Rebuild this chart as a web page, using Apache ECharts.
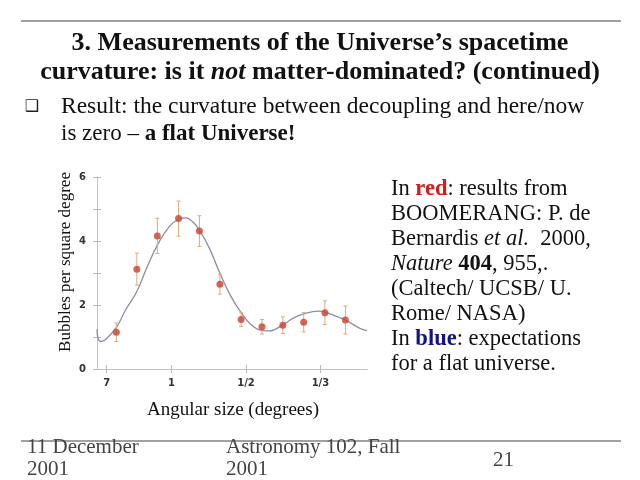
<!DOCTYPE html>
<html>
<head>
<meta charset="utf-8">
<script src="https://cdn.jsdelivr.net/npm/echarts@6/dist/echarts.min.js"></script>
<style>
  html, body { margin: 0; padding: 0; background: #fff; }
  #chart { width: 640px; height: 480px; }
</style>
</head>
<body>
<div id="chart"></div>
<script>
  // BOOMERANG points (multipole-like position, bubbles per sq. degree)
  const pointPos = [52, 107, 162, 219, 275, 330, 387, 443, 499, 555, 612, 667];
  const pointVal = [1.15, 3.12, 4.16, 4.70, 4.31, 2.65, 1.55, 1.32, 1.37, 1.46, 1.76, 1.53];
  const pointErr = [0.29, 0.50, 0.55, 0.55, 0.48, 0.31, 0.22, 0.23, 0.26, 0.30, 0.37, 0.44];

  // flat-universe expectation curve
  const curvePos = [0, 3, 10, 23, 52, 77, 107, 135, 162, 194, 219, 239, 257, 275, 302, 330, 360, 387, 414, 443, 463, 499, 526, 555, 594, 612, 639, 667, 706, 725];
  const curveVal = [1.24, 0.95, 0.86, 0.92, 1.30, 1.85, 2.42, 3.20, 3.87, 4.45, 4.68, 4.72, 4.60, 4.34, 3.77, 2.99, 2.26, 1.76, 1.38, 1.20, 1.19, 1.38, 1.58, 1.72, 1.81, 1.78, 1.66, 1.53, 1.27, 1.20];

  // x tick positions and their angular-size labels
  const tickPos = [26, 200, 400, 600];
  const tickLabels = ['7', '1', '1/2', '1/3'];

  const serif = '"Liberation Serif", "Times New Roman", serif';

  const chart = echarts.init(document.getElementById('chart'));

  const errData = pointPos.map((p, i) => [p, pointVal[i] - pointErr[i], pointVal[i] + pointErr[i]]);

  chart.setOption({
    animation: false,
    backgroundColor: '#fff',
    grid: {left: 97, right: 273, top: 177, bottom: 111},
    xAxis: [
      {
        type: 'value', min: 0, max: 725, position: 'bottom',
        axisLine: {lineStyle: {color: '#c4c4c4'}},
        splitLine: {show: false},
        axisTick: {inside: true, length: 4, customValues: tickPos, lineStyle: {color: '#bbb'}},
        axisLabel: {
          customValues: tickPos, margin: 9,
          fontFamily: 'DejaVu Sans', fontWeight: 'bold', fontSize: 10, color: '#333',
          formatter: v => tickLabels[tickPos.indexOf(v)]
        }
      },
      {
        type: 'value', min: 0, max: 725, position: 'top',
        axisLine: {show: true, lineStyle: {color: '#c4c4c4'}},
        splitLine: {show: false},
        axisTick: {inside: true, length: 4, customValues: tickPos, lineStyle: {color: '#bbb'}},
        axisLabel: {show: false}
      }
    ],
    yAxis: [
      {
        type: 'value', min: 0, max: 6, interval: 1, position: 'left',
        axisLine: {show: true, lineStyle: {color: '#c4c4c4'}},
        splitLine: {show: false},
        axisTick: {inside: true, length: 4, lineStyle: {color: '#bbb'}},
        axisLabel: {
          margin: 11, fontFamily: 'DejaVu Sans', fontWeight: 'bold', fontSize: 10, color: '#333',
          formatter: v => (v % 2 === 0 ? String(v) : '')
        }
      },
      {
        type: 'value', min: 0, max: 6, interval: 1, position: 'right',
        axisLine: {show: true, lineStyle: {color: '#c4c4c4'}},
        splitLine: {show: false},
        axisTick: {inside: true, length: 4, lineStyle: {color: '#bbb'}},
        axisLabel: {show: false}
      }
    ],
    series: [
      {
        type: 'line',
        data: curvePos.map((p, i) => [p, curveVal[i]]),
        smooth: 0.4,
        showSymbol: false,
        lineStyle: {color: '#8e8ea2', width: 1.3},
        z: 2
      },
      {
        type: 'custom',
        data: errData,
        renderItem: (params, api) => {
          const top = api.coord([api.value(0), api.value(2)]);
          const bot = api.coord([api.value(0), api.value(1)]);
          const cap = 2;
          const st = {stroke: '#dea882', lineWidth: 1};
          return {
            type: 'group',
            children: [
              {type: 'line', shape: {x1: top[0], y1: top[1], x2: bot[0], y2: bot[1]}, style: st},
              {type: 'line', shape: {x1: top[0] - cap, y1: top[1], x2: top[0] + cap, y2: top[1]}, style: st},
              {type: 'line', shape: {x1: bot[0] - cap, y1: bot[1], x2: bot[0] + cap, y2: bot[1]}, style: st}
            ]
          };
        },
        z: 3
      },
      {
        type: 'scatter',
        data: pointPos.map((p, i) => [p, pointVal[i]]),
        symbolSize: 7,
        itemStyle: {color: '#c9412f'},
        z: 4
      }
    ],
    graphic: [
      {type: 'line', shape: {x1: 21, y1: 21, x2: 621, y2: 21}, style: {stroke: '#444', lineWidth: 1.2}},
      {type: 'line', shape: {x1: 21, y1: 441, x2: 621, y2: 441}, style: {stroke: '#444', lineWidth: 1.2}},
      {
        type: 'text', x: 320, y: 43,
        style: {text: '3. Measurements of the Universe\u2019s spacetime', font: 'bold 26px ' + serif, fill: '#111', align: 'center', verticalAlign: 'middle'}
      },
      {
        type: 'text', x: 320, y: 72,
        style: {
          text: '{b|curvature: is it }{i|not}{b| matter-dominated? (continued)}',
          align: 'center', verticalAlign: 'middle',
          rich: {
            b: {font: 'bold 26px ' + serif, fill: '#111'},
            i: {font: 'italic bold 26px ' + serif, fill: '#111'}
          }
        }
      },
      {
        type: 'text', x: 32, y: 107,
        style: {text: '\u2751', font: '16px "DejaVu Sans"', fill: '#222', align: 'center', verticalAlign: 'middle'}
      },
      {
        type: 'text', x: 61, y: 107,
        style: {text: 'Result: the curvature between decoupling and here/now', font: '23.5px ' + serif, fill: '#111', verticalAlign: 'middle'}
      },
      {
        type: 'text', x: 61, y: 134,
        style: {
          text: '{r|is zero \u2013 }{b|a flat Universe!}', verticalAlign: 'middle',
          rich: {r: {font: '23px ' + serif, fill: '#111'}, b: {font: 'bold 23px ' + serif, fill: '#111'}}
        }
      },
      {
        type: 'text', x: 391, y: 176.5,
        style: {
          text: [
            '{n|In }{red|red}{n|: results from}',
            '{n|BOOMERANG: P. de}',
            '{n|Bernardis }{i|et al.}{n|  2000,}',
            '{i|Nature }{b|404}{n|, 955,.}',
            '{n|(Caltech/ UCSB/ U.}',
            '{n|Rome/ NASA)}',
            '{n|In }{blue|blue}{n|: expectations}',
            '{n|for a flat universe.}'
          ].join('\n'),
          verticalAlign: 'top',
          rich: {
            n: {font: '22.5px ' + serif, fill: '#111', lineHeight: 25},
            i: {font: 'italic 22.5px ' + serif, fill: '#111', lineHeight: 25},
            b: {font: 'bold 22.5px ' + serif, fill: '#111', lineHeight: 25},
            red: {font: 'bold 22.5px ' + serif, fill: '#d0201c', lineHeight: 25},
            blue: {font: 'bold 22.5px ' + serif, fill: '#12128a', lineHeight: 25}
          }
        }
      },
      {
        type: 'text', x: 66, y: 262, rotation: Math.PI / 2,
        style: {text: 'Bubbles per square degree', font: '17px ' + serif, fill: '#111', align: 'center', verticalAlign: 'middle'}
      },
      {
        type: 'text', x: 233, y: 410,
        style: {text: 'Angular size (degrees)', font: '19px ' + serif, fill: '#111', align: 'center', verticalAlign: 'middle'}
      },
      {
        type: 'text', x: 27, y: 436,
        style: {text: '11 December\n2001', font: '21px ' + serif, fill: '#444', lineHeight: 22, verticalAlign: 'top'}
      },
      {
        type: 'text', x: 226, y: 436,
        style: {text: 'Astronomy 102, Fall\n2001', font: '21px ' + serif, fill: '#444', lineHeight: 22, verticalAlign: 'top'}
      },
      {
        type: 'text', x: 493, y: 460,
        style: {text: '21', font: '21px ' + serif, fill: '#444', verticalAlign: 'middle'}
      }
    ]
  });
</script>
</body>
</html>
